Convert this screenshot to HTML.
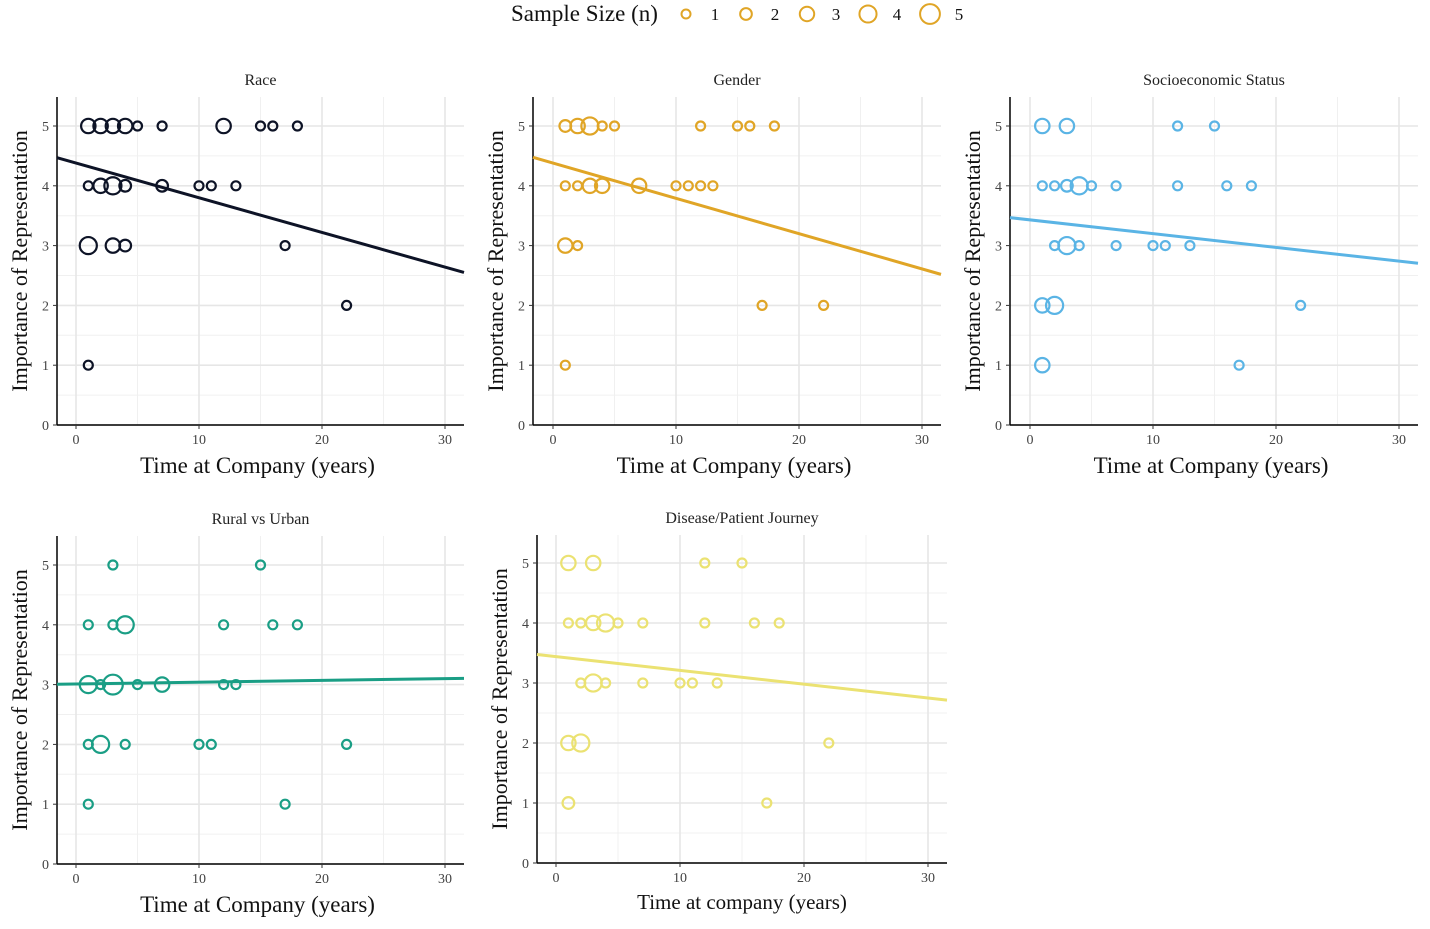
<!DOCTYPE html>
<html><head><meta charset="utf-8"><style>
body{margin:0;background:#fff;}
svg{display:block;font-family:"Liberation Serif",serif;}
</style></head><body>
<svg id="chart" width="1430" height="929" viewBox="0 0 1430 929" xmlns="http://www.w3.org/2000/svg"></svg>
<script>
const panelTitles = ["Race","Gender","Socioeconomic Status","Rural vs Urban","Disease/Patient Journey"];
const panelColors = ["#0d1326","#e0a526","#5ab4e5","#1a9e85","#ebe272"];
const raceData = [[1,5,3],[2,5,3],[3,5,3],[4,5,3],[5,5,1],[7,5,1],[12,5,3],[15,5,1],[16,5,1],[18,5,1],[1,4,1],[2,4,3],[3,4,4],[4,4,2],[7,4,2],[10,4,1],[11,4,1],[13,4,1],[1,3,4],[3,3,3],[4,3,2],[17,3,1],[22,2,1],[1,1,1]];
const genderData = [[1,5,2],[2,5,3],[3,5,4],[4,5,1],[5,5,1],[12,5,1],[15,5,1],[16,5,1],[18,5,1],[1,4,1],[2,4,1],[3,4,3],[4,4,3],[7,4,3],[10,4,1],[11,4,1],[12,4,1],[13,4,1],[1,3,3],[2,3,1],[17,2,1],[22,2,1],[1,1,1]];
const sesData = [[1,5,3],[3,5,3],[12,5,1],[15,5,1],[1,4,1],[2,4,1],[3,4,2],[4,4,4],[5,4,1],[7,4,1],[12,4,1],[16,4,1],[18,4,1],[2,3,1],[3,3,4],[4,3,1],[7,3,1],[10,3,1],[11,3,1],[13,3,1],[1,2,3],[2,2,4],[22,2,1],[1,1,3],[17,1,1]];
const ruralData = [[3,5,1],[15,5,1],[1,4,1],[3,4,1],[4,4,4],[12,4,1],[16,4,1],[18,4,1],[1,3,4],[2,3,1],[3,3,5],[5,3,1],[7,3,3],[12,3,1],[13,3,1],[1,2,1],[2,2,4],[4,2,1],[10,2,1],[11,2,1],[22,2,1],[1,1,1],[17,1,1]];
const diseaseData = [[1,5,3],[3,5,3],[12,5,1],[15,5,1],[1,4,1],[2,4,1],[3,4,3],[4,4,4],[5,4,1],[7,4,1],[12,4,1],[16,4,1],[18,4,1],[2,3,1],[3,3,4],[4,3,1],[7,3,1],[10,3,1],[11,3,1],[13,3,1],[1,2,3],[2,2,4],[22,2,1],[1,1,2],[17,1,1]];
const fitIntercepts = [4.38,4.38,3.43,3.01,3.44];
const fitSlopes = [-0.058,-0.059,-0.023,0.003,-0.023];
const xTicks = [0,10,20,30];
const yTicks = [0,1,2,3,4,5];
const legendSizes = [1,2,3,4,5];
const xTitles = ["Time at Company (years)","Time at Company (years)","Time at Company (years)","Time at Company (years)","Time at company (years)"];

const allData=[raceData,genderData,sesData,ruralData,diseaseData];
const panels=[
 {L:57,R:464,T:97,B:425,x0:76,x30:445,y0:425,y5:126},
 {L:533,R:941,T:97,B:425,x0:553,x30:922,y0:425,y5:126},
 {L:1010,R:1418,T:97,B:425,x0:1030,x30:1399,y0:425,y5:126},
 {L:57,R:464,T:536,B:864,x0:76,x30:445,y0:864,y5:565},
 {L:537,R:947,T:535,B:863,x0:556,x30:928,y0:863,y5:563}
];
const svg=document.getElementById('chart');
const NS='http://www.w3.org/2000/svg';
function mk(tag,attrs,parent,text){const e=document.createElementNS(NS,tag);for(const k in attrs)e.setAttribute(k,attrs[k]);if(text!==undefined)e.textContent=text;(parent||svg).appendChild(e);return e;}
function rad(n){return 4.5+ (n-1)*1.35;}

// legend
const lg=mk('g',{});


mk('text',{x:511,y:21,'font-size':23,fill:'#111'},lg,'Sample Size (n)');
const legendX=[686,746,807,868,930];
legendSizes.forEach((n,i)=>{
 const c=mk('circle',{cx:legendX[i],cy:14,r:rad(n),fill:'none',stroke:'#e0a526','stroke-width':2},lg);
 
 
 mk('text',{x:legendX[i]+29,y:20,'font-size':17,'text-anchor':'middle',fill:'#111'},lg,String(n));
});

panels.forEach((p,pi)=>{
 const g=mk('g',{});
 
 
 const sx=v=>p.x0+(v)*(p.x30-p.x0)/30;
 const sy=v=>p.y0-(v)*(p.y0-p.y5)/5;
 for(let v=0.5;v<5.5;v+=1){if(sy(v)>p.T)mk('line',{x1:p.L,x2:p.R,y1:sy(v),y2:sy(v),stroke:'#f0f0f0','stroke-width':1},g);}
 for(let v=5;v<32;v+=10){mk('line',{x1:sx(v),x2:sx(v),y1:p.T,y2:p.B,stroke:'#f0f0f0','stroke-width':1},g);}
 yTicks.forEach(v=>mk('line',{x1:p.L,x2:p.R,y1:sy(v),y2:sy(v),stroke:'#e6e6e6','stroke-width':1.6},g));
 xTicks.forEach(v=>mk('line',{x1:sx(v),x2:sx(v),y1:p.T,y2:p.B,stroke:'#e6e6e6','stroke-width':1.6},g));
 const ax=mk('line',{x1:p.L,x2:p.L,y1:p.T,y2:p.B,stroke:'#000','stroke-width':1.5},g);
 
 
 const bx=mk('line',{x1:p.L,x2:p.R,y1:p.B,y2:p.B,stroke:'#000','stroke-width':1.5},g);
 
 
 yTicks.forEach(v=>{mk('line',{x1:p.L-4,x2:p.L,y1:sy(v),y2:sy(v),stroke:'#333'},g);
  mk('text',{x:p.L-8,y:sy(v)+5,'text-anchor':'end','font-size':14,fill:'#444'},g,String(v));});
 xTicks.forEach(v=>{mk('line',{x1:sx(v),x2:sx(v),y1:p.B,y2:p.B+4,stroke:'#333'},g);
  mk('text',{x:sx(v),y:p.B+19,'text-anchor':'middle','font-size':14,fill:'#444'},g,String(v));});
 const t=mk('text',{x:(p.L+p.R)/2,y:p.T-12,'text-anchor':'middle','font-size':16,fill:'#222'},g,panelTitles[pi]);
 
 
 const xt=mk('text',{x:(p.L+p.R)/2-(pi==4?0:3),y:p.B+(pi==4?46:48),'text-anchor':'middle','font-size':pi==4?21:23,fill:'#111'},g,xTitles[pi]);
 
 
 const cy=(p.T+p.B)/2;
 const yt=mk('text',{x:0,y:0,transform:`translate(${p.L-30},${cy}) rotate(-90)`,'text-anchor':'middle','font-size':22,fill:'#111'},g,'Importance of Representation');
 
 
 allData[pi].forEach(d=>{
  const c=mk('circle',{cx:sx(d[0]),cy:sy(d[1]),r:rad(d[2]),fill:'none',stroke:panelColors[pi],'stroke-width':2.2},g);
  
  
 });
 const xa=(p.L-p.x0)*30/(p.x30-p.x0), xb=(p.R-p.x0)*30/(p.x30-p.x0);
 const f=x=>fitIntercepts[pi]+fitSlopes[pi]*x;
 const fl=mk('line',{x1:sx(xa),y1:sy(f(xa)),x2:sx(xb),y2:sy(f(xb)),stroke:panelColors[pi],'stroke-width':3},g);
 
 
});
</script>
</body></html>
